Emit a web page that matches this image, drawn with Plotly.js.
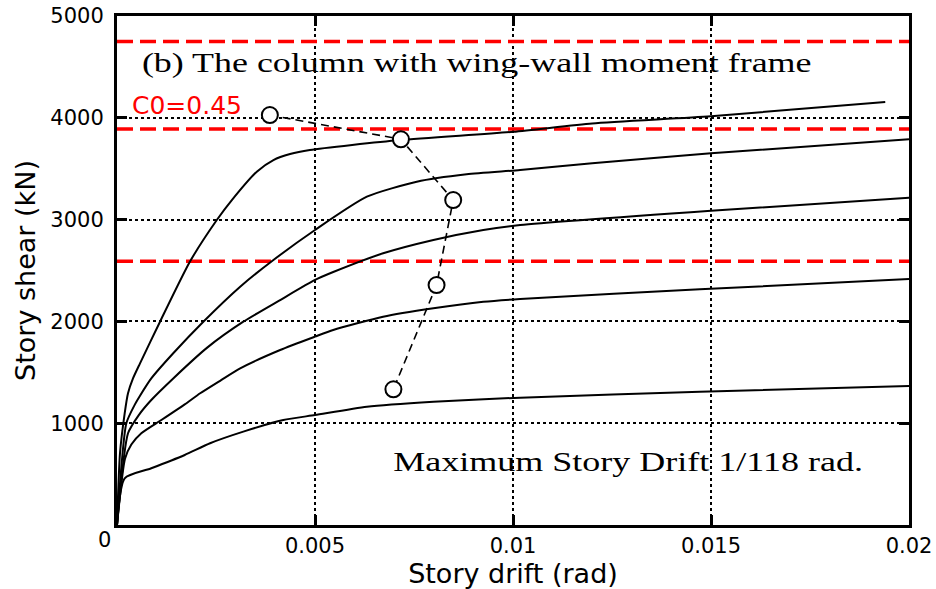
<!DOCTYPE html>
<html>
<head>
<meta charset="utf-8">
<script src="https://cdn.plot.ly/plotly-3.0.1.min.js"></script>
<style>
html,body{margin:0;padding:0;background:#fff;}
#chart{width:936px;height:589px;}
</style>
</head>
<body>
<div id="chart"></div>
<script>
// ---- data ----
const drift1 = [0, 0.000076, 0.000194, 0.000278, 0.000404, 0.000581, 0.001086, 0.00184, 0.00252, 0.0029, 0.00353, 0.00395, 0.00437, 0.00487, 0.00715, 0.01001, 0.012, 0.015, 0.0194];
const shear1 = [0, 707, 1097, 1294, 1440, 1588, 1997, 2586, 2996, 3192, 3471, 3585, 3644, 3684, 3782, 3863, 3945, 4015, 4155];

const drift2 = [0, 0.000236, 0.000446, 0.000581, 0.000866, 0.00142, 0.00218, 0.00311, 0.00395, 0.005, 0.00631, 0.00757, 0.00883, 0.01018, 0.012, 0.015, 0.02];
const shear2 = [0, 1000, 1180, 1270, 1440, 1687, 1997, 2341, 2603, 2898, 3225, 3372, 3445, 3487, 3553, 3651, 3789];

const drift3 = [0, 0.000278, 0.00055, 0.000866, 0.00142, 0.00227, 0.00319, 0.00412, 0.005, 0.00546, 0.00672, 0.00799, 0.00925, 0.01018, 0.015, 0.02];
const shear3 = [0, 901, 1080, 1228, 1440, 1740, 1997, 2210, 2407, 2485, 2669, 2800, 2898, 2947, 3087, 3215];

const drift4 = [0, 0.000202, 0.000362, 0.000614, 0.00112, 0.00171, 0.0021, 0.00263, 0.00311, 0.00412, 0.005, 0.00546, 0.00672, 0.00799, 0.00925, 0.01018, 0.01472, 0.02];
const shear4 = [0, 650, 790, 901, 1031, 1185, 1294, 1424, 1539, 1719, 1850, 1915, 2046, 2129, 2193, 2220, 2315, 2416];

const drift5 = [0, 0.000194, 0.000866, 0.00171, 0.00235, 0.00319, 0.0042, 0.005, 0.00631, 0.00799, 0.01018, 0.01472, 0.02];
const shear5 = [0, 459, 557, 688, 803, 917, 1031, 1080, 1162, 1211, 1251, 1309, 1365];

// maximum response points (open circles, dashed connection)
const maxDrift = [0.00386, 0.00717, 0.00849, 0.00807, 0.00698];
const maxShear = [4027, 3789, 3192, 2357, 1333];

// red reference shear levels
const refLevels = [4750, 3890, 2590];
const refSpan = [0, 0.02];

const xTickVals = [0, 0.005, 0.01, 0.015, 0.02];
const xTickText = ['', '0.005', '0.01', '0.015', '0.02'];
const yTickVals = [0, 1000, 2000, 3000, 4000, 5000];
const yTickText = ['', '1000', '2000', '3000', '4000', '5000'];

const titleText = '(b) The column with wing-wall moment frame';
const noteText = 'Maximum Story Drift 1/118 rad.';
const c0Text = 'C0=0.45';

// ---- traces ----
const traces = [];
refLevels.forEach(v => {
  traces.push({x: refSpan, y: [v, v], mode: 'lines', hoverinfo: 'skip',
    line: {color: '#ff0000', width: 3.5, dash: '16px,7px'}});
});
[[drift1, shear1], [drift2, shear2], [drift3, shear3], [drift4, shear4], [drift5, shear5]].forEach(([x, y]) => {
  traces.push({x: x, y: y, mode: 'lines', line: {color: '#000', width: 2, shape: 'spline', smoothing: 0.6}});
});
traces.push({x: maxDrift, y: maxShear, mode: 'lines+markers',
  line: {color: '#000', width: 1.6, dash: '8px,5px'},
  marker: {symbol: 'circle', size: 16, color: '#fff', line: {color: '#000', width: 2}}});

const sansFont = 'DejaVu Sans, sans-serif';
const serifFont = 'Liberation Serif, Times New Roman, serif';

const layout = {
  width: 936, height: 589,
  margin: {l: 117, r: 27, t: 16, b: 64},
  paper_bgcolor: '#fff', plot_bgcolor: '#fff',
  showlegend: false,
  xaxis: {
    range: [0, 0.02], tickvals: xTickVals, ticktext: xTickText,
    showline: true, linecolor: '#000', linewidth: 3, mirror: 'ticks',
    ticks: 'inside', ticklen: 10, tickwidth: 3, tickcolor: '#000',
    showgrid: true, gridcolor: '#000', gridwidth: 2, griddash: 'dot',
    zeroline: false,
    tickfont: {family: sansFont, size: 21, color: '#000'},
    title: {text: 'Story drift (rad)', font: {family: sansFont, size: 27, color: '#000'}, standoff: 4}
  },
  yaxis: {
    range: [0, 5000], tickvals: yTickVals, ticktext: yTickText,
    showline: true, linecolor: '#000', linewidth: 3, mirror: 'ticks',
    ticks: 'inside', ticklen: 10, tickwidth: 3, tickcolor: '#000',
    showgrid: true, gridcolor: '#000', gridwidth: 2, griddash: 'dot',
    zeroline: false,
    tickfont: {family: sansFont, size: 21, color: '#000'},
    ticklabelstandoff: 6,
    title: {text: 'Story shear (kN)', font: {family: sansFont, size: 27, color: '#000'}, standoff: 7}
  },
  annotations: [
    {x: 0.00907, y: 4540, xref: 'x', yref: 'y', text: titleText, showarrow: false,
      xanchor: 'center', yanchor: 'middle', font: {family: serifFont, size: 27, color: '#000'}},
    {x: 0.000328, y: 4120, xref: 'x', yref: 'y', text: c0Text, showarrow: false,
      xanchor: 'left', yanchor: 'middle', font: {family: sansFont, size: 25, color: '#ff0000'}},
    {x: 0.0129, y: 619, xref: 'x', yref: 'y', text: noteText, showarrow: false,
      xanchor: 'center', yanchor: 'middle', font: {family: serifFont, size: 27, color: '#000'}},
    {x: 0, y: 0, xref: 'x', yref: 'y', text: '0', showarrow: false,
      xanchor: 'right', yanchor: 'top', xshift: -4, yshift: -1,
      font: {family: sansFont, size: 21, color: '#000'}}
  ]
};

Plotly.newPlot('chart', traces, layout, {displayModeBar: false, staticPlot: true}).then(() => {
  const stretch = {};
  stretch[titleText] = 670;
  stretch[noteText] = 470;
  document.querySelectorAll('text.annotation-text').forEach(t => {
    const L = stretch[t.textContent];
    if (L) {
      const bb = t.getBBox();
      const s = L / bb.width;
      const cx = bb.x + bb.width / 2;
      const prev = t.getAttribute('transform') || '';
      t.setAttribute('transform', prev + ' translate(' + cx + ',0) scale(' + s + ',1) translate(' + (-cx) + ',0)');
    }
  });
});
</script>
</body>
</html>
